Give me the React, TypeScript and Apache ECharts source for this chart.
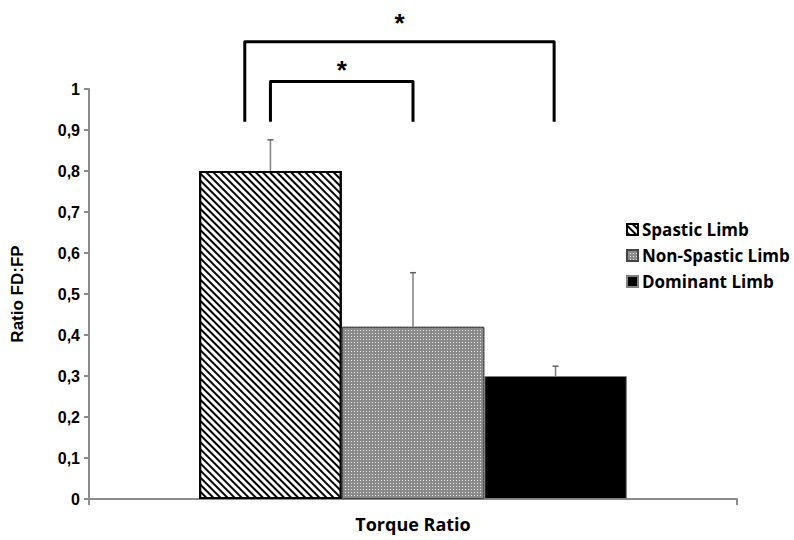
import React, { useEffect, useRef } from "react";
import * as echarts from "echarts";

const categories = ["Torque Ratio"];
const seriesNames = ["Spastic Limb", "Non-Spastic Limb", "Dominant Limb"];
const meanValues = [0.8, 0.42, 0.3];
const errorTops = [0.876, 0.552, 0.324];
const yTicks = [0, 0.1, 0.2, 0.3, 0.4, 0.5, 0.6, 0.7, 0.8, 0.9, 1];
// significance brackets: [category, leftOffset(bar widths), rightOffset, top, bottom, starY]
const bracketRows = [
  [0, -1.18, 0.99, 1.115, 0.92, 1.16],
  [0, -1.0, 0.0, 1.018, 0.92, 1.046],
];
const bracketLabels = ["*", "*"];

const CAT_GAP = 0.34;

function barOffsetPx(api: any, k: number) {
  const band = api.size([1, 0])[0];
  const bw = (band * (1 - CAT_GAP)) / 3;
  return { bw, off: k * bw };
}

export default function App() {
  const ref = useRef<HTMLDivElement>(null);
  useEffect(() => {
    const chart = echarts.init(ref.current!, null, { renderer: "svg" });
    const styles = [
      {
        color: "#ffffff",
        borderColor: "#000000",
        borderWidth: 2,
        decal: {
          symbol: "rect",
          symbolSize: 1,
          dashArrayX: [1, 0],
          dashArrayY: [2, 2.2],
          rotation: Math.PI / 4,
          color: "#000000",
        },
      },
      {
        color: "#8a8a8a",
        borderColor: "#444444",
        borderWidth: 1,
        decal: {
          symbol: "rect",
          symbolSize: 1,
          dashArrayX: [1, 2],
          dashArrayY: [1, 2],
          color: "#e8e8e8",
        },
      },
      { color: "#000000", borderColor: "#808080", borderWidth: 1 },
    ];
    const barSeries = seriesNames.map((name, i) => ({
      name,
      type: "bar",
      data: [meanValues[i]],
      barGap: "0%",
      barCategoryGap: CAT_GAP * 100 + "%",
      itemStyle: styles[i],
      emphasis: { disabled: true },
    }));
    const errData = meanValues.map((v, i) => [0, errorTops[i], v, i - 1]);
    const option: any = {
      animation: false,
      backgroundColor: "#ffffff",
      grid: { left: 89, right: 57, top: 89, bottom: 41, containLabel: false },
      legend: {
        data: seriesNames,
        orient: "vertical",
        left: 621,
        top: 216,
        itemWidth: 11,
        itemHeight: 11,
        itemGap: 9,
        icon: "rect",
        textStyle: {
          fontFamily: "Open Sans",
          fontWeight: "bold",
          fontSize: 17,
          color: "#000",
          padding: [0, 0, 0, -1],
        },
      },
      xAxis: {
        type: "category",
        data: categories,
        axisLine: { lineStyle: { color: "#8c8c8c", width: 2 } },
        axisTick: { show: true, length: 6, lineStyle: { color: "#8c8c8c", width: 2 } },
        axisLabel: {
          margin: 16,
          fontFamily: "Open Sans",
          fontWeight: "bold",
          fontSize: 18,
          color: "#000",
        },
      },
      yAxis: {
        type: "value",
        min: 0,
        max: 1,
        interval: 0.1,
        name: "Ratio FD:FP",
        nameLocation: "middle",
        nameGap: 63,
        nameTextStyle: {
          fontFamily: "Liberation Sans",
          fontWeight: "bold",
          fontSize: 17,
          color: "#000",
        },
        axisLine: { show: true, lineStyle: { color: "#8c8c8c", width: 2 } },
        axisTick: { show: true, length: 5, lineStyle: { color: "#8c8c8c", width: 2 } },
        splitLine: { show: false },
        axisLabel: {
          margin: 9,
          fontFamily: "Liberation Sans",
          fontWeight: "bold",
          fontSize: 16,
          color: "#000",
          formatter: (v: number) => {
            const t = yTicks.find((y) => Math.abs(y - v) < 1e-6);
            const val = t === undefined ? v : t;
            return val === 0 || val === 1 ? String(val) : val.toFixed(1).replace(".", ",");
          },
        },
      },
      series: [
        ...barSeries,
        {
          type: "custom",
          name: "err",
          data: errData,
          encode: { x: 0, y: 1 },
          z: 5,
          clip: false,
          renderItem: (params: any, api: any) => {
            const top = api.coord([api.value(0), api.value(1)]);
            const base = api.coord([api.value(0), api.value(2)]);
            const { off } = barOffsetPx(api, api.value(3));
            const x = top[0] + off;
            return {
              type: "group",
              children: [
                {
                  type: "line",
                  shape: { x1: x, y1: base[1], x2: x, y2: top[1] },
                  style: { stroke: "#808080", lineWidth: 1.5 },
                },
                {
                  type: "line",
                  shape: { x1: x - 3, y1: top[1], x2: x + 3, y2: top[1] },
                  style: { stroke: "#606060", lineWidth: 1.5 },
                },
              ],
            };
          },
        },
        {
          type: "custom",
          name: "brackets",
          data: bracketRows,
          encode: { x: 0, y: 3 },
          z: 6,
          clip: false,
          renderItem: (params: any, api: any) => {
            const c = api.coord([api.value(0), api.value(3)]);
            const bot = api.coord([api.value(0), api.value(4)]);
            const star = api.coord([api.value(0), api.value(5)]);
            const l = barOffsetPx(api, api.value(1)).off + c[0];
            const r = barOffsetPx(api, api.value(2)).off + c[0];
            return {
              type: "group",
              children: [
                {
                  type: "polyline",
                  shape: {
                    points: [
                      [l, bot[1]],
                      [l, c[1]],
                      [r, c[1]],
                      [r, bot[1]],
                    ],
                  },
                  style: { stroke: "#000", lineWidth: 3, fill: null, lineJoin: "round" },
                },
                {
                  type: "text",
                  style: {
                    text: bracketLabels[params.dataIndex],
                    x: (l + r) / 2,
                    y: star[1],
                    align: "center",
                    verticalAlign: "middle",
                    font: "bold 26px Liberation Sans",
                    fill: "#000",
                  },
                },
              ],
            };
          },
        },
      ],
    };
    chart.setOption(option);
    return () => chart.dispose();
  }, []);
  return (
    <div
      ref={ref}
      style={{ position: "fixed", left: 0, top: 0, width: 794, height: 540, background: "#fff" }}
    />
  );
}
